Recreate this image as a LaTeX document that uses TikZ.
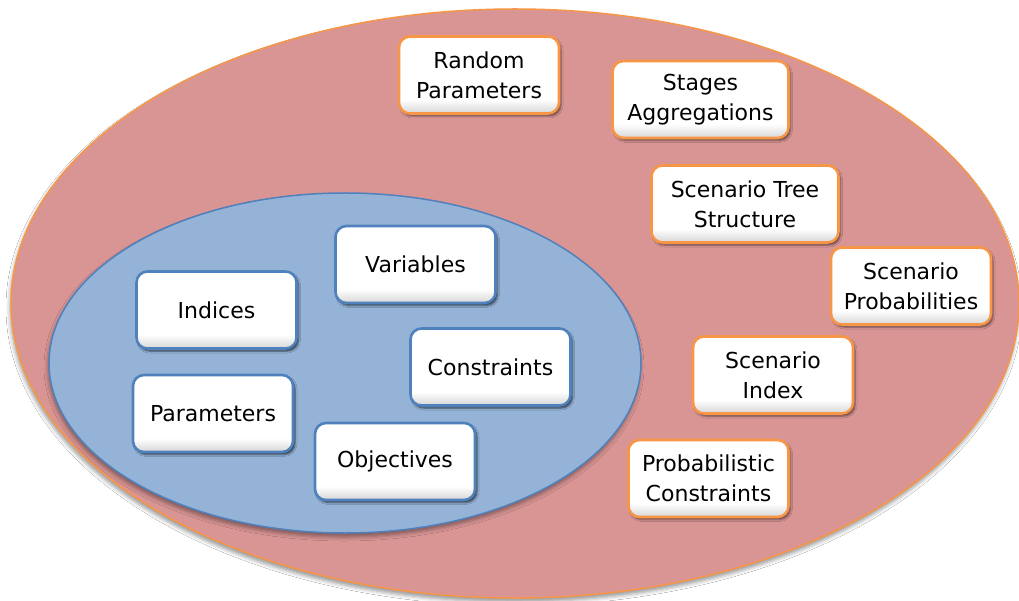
\documentclass[tikz,border=0pt]{standalone}
\usepackage{fontspec}
\setmainfont{DejaVu Sans}
\usetikzlibrary{shadows,shadows.blur}

\definecolor{outerfill}{HTML}{D99594}
\definecolor{outerline}{HTML}{F79646}
\definecolor{innerfill}{HTML}{95B3D7}
\definecolor{innerline}{HTML}{4F81BD}

% white card face that greys only near its lower edge
\pgfdeclareverticalshading{cardface}{100bp}{%
  color(0bp)=(black!16); color(25bp)=(black!16); color(34bp)=(white); color(100bp)=(white)}

\tikzset{
  card/.style={rounded corners=11pt, minimum width=160pt, minimum height=77pt,
    inner sep=0pt, align=center, line width=2.6pt,
    shading=cardface, shading angle=0,
    font=\fontsize{22}{30}\selectfont},
  orangecard/.style={card, draw=outerline,
    blur shadow={shadow xshift=2pt, shadow yshift=-2.5pt, shadow blur radius=2pt,
      shadow opacity=55}},
  bluecard/.style={card, draw=innerline,
    blur shadow={shadow xshift=2pt, shadow yshift=-2.5pt, shadow blur radius=2pt,
      shadow opacity=70}},
}

\begin{document}
\begin{tikzpicture}[x=1pt,y=-1pt]
\useasboundingbox (0,0) rectangle (1019,601);
\fill[white] (0,0) rectangle (1019,601);

% outer region: stochastic extension
\draw[fill=outerfill, draw=outerline, line width=1.5pt,
  blur shadow={shadow xshift=-1pt, shadow yshift=-4pt, shadow blur radius=4pt, shadow opacity=40}]
  (515,303.5) ellipse [x radius=504, y radius=294.5];

% inner region: deterministic model
\draw[fill=innerfill, draw=innerline, line width=1.5pt,
  blur shadow={shadow xshift=-1pt, shadow yshift=-4pt, shadow blur radius=4pt, shadow opacity=40}]
  (345,363) ellipse [x radius=296, y radius=170];

% stochastic components
\node[orangecard] (rp) at (479,75) {Random\\Parameters};
\node[orangecard, minimum width=176pt] (sa) at (700.5,99.5) {Stages\\Aggregations};
\node[orangecard, minimum width=187pt] (st) at (745,204) {Scenario Tree\\Structure};
\node[orangecard] (sp) at (911,286) {Scenario\\Probabilities};
\node[orangecard] (si) at (773,375) {Scenario\\Index};
\node[orangecard] (pc) at (708.5,478.5) {Probabilistic\\Constraints};

% deterministic components
\node[bluecard] (var) at (415.5,264.5) {Variables};
\node[bluecard] (ind) at (216.5,310) {Indices};
\node[bluecard] (con) at (490.5,367) {Constraints};
\node[bluecard] (par) at (213,413.5) {Parameters};
\node[bluecard] (obj) at (395,461.5) {Objectives};
\end{tikzpicture}
\end{document}
